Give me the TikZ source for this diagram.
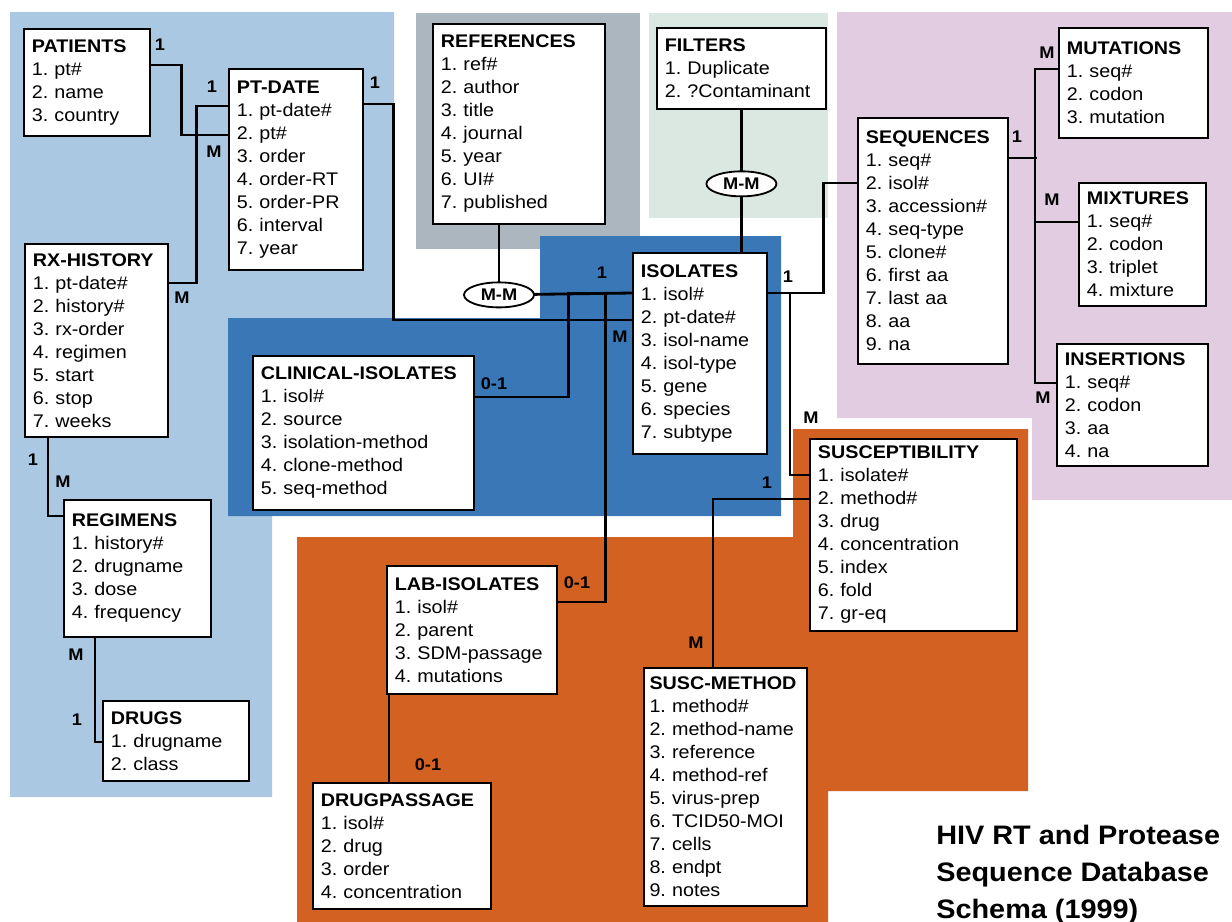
\documentclass[tikz,border=0pt]{standalone}
\usepackage{fontspec}
\setmainfont{Liberation Sans}[FakeStretch=1.08]
\usetikzlibrary{shapes.geometric,calc}
\definecolor{patblue}{RGB}{170,200,225}
\definecolor{isoblue}{RGB}{58,119,182}
\definecolor{refgrey}{RGB}{172,182,190}
\definecolor{filtgreen}{RGB}{219,232,226}
\definecolor{seqpink}{RGB}{226,204,225}
\definecolor{suscorange}{RGB}{211,97,34}
\frenchspacing
\hyphenpenalty=10000
\exhyphenpenalty=10000
\tikzset{
	entity/.style={draw, line width=1.3pt, fill=white, anchor=north west, align=left, inner xsep=0.2cm, inner ysep=0pt, font=\fontsize{13}{16.35}\selectfont},
	link/.style={line width=2pt},
	card/.style={inner sep=0pt, font=\bfseries\fontsize{12}{14}\selectfont},
	mm/.style={draw, ellipse, line width=1.3pt, fill=white, minimum width=1.75cm, minimum height=0.625cm, inner sep=0pt, font=\bfseries\fontsize{12}{14}\selectfont}
}
\begin{document}
\begin{tikzpicture}[x=0.025cm,y=-0.025cm,line join=miter]
	\useasboundingbox (0,0) rectangle (1232,922);
	% coloured areas
	\fill[patblue] (10,12) -- (394,12) -- (394,318) -- (272,318) -- (272,797) -- (10,797) -- cycle;
	\fill[refgrey] (416,13) rectangle (640,249);
	\fill[filtgreen] (649,13) rectangle (828,218);
	\fill[seqpink] (837,12) -- (1232,12) -- (1232,500) -- (1032,500) -- (1032,418) -- (837,418) -- cycle;
	\fill[isoblue] (540,236) -- (781,236) -- (781,516) -- (228,516) -- (228,318) -- (540,318) -- cycle;
	\fill[suscorange] (297,537) -- (793,537) -- (793,429) -- (1028,429) -- (1028,791) -- (828,791) -- (828,922) -- (297,922) -- cycle;
	% tables
	\node[entity, text width=2.75cm, minimum height=2.675cm] (patients) at (23,28) {\textbf{PATIENTS}\\1. pt\#\\2. name\\3. country};
	\node[entity, text width=2.95cm, minimum height=5.025cm] (ptdate) at (228,68) {\textbf{PT-DATE}\\1. pt-date\#\\2. pt\#\\3. order\\4. order-RT\\5. order-PR\\6. interval\\7. year};
	\node[entity, text width=3.9cm, minimum height=5cm] (references) at (432,23) {\textbf{REFERENCES}\\1. ref\#\\2. author\\3. title\\4. journal\\5. year\\6. UI\#\\7. published};
	\node[entity, text width=3.825cm, minimum height=2.025cm] (filters) at (656,27) {\textbf{FILTERS}\\1. Duplicate\\2. ?Contaminant};
	\node[entity, text width=3.35cm, minimum height=6.15cm] (sequences) at (857,117) {\textbf{SEQUENCES}\\1. seq\#\\2. isol\#\\3. accession\#\\4. seq-type\\5. clone\#\\6. first aa\\7. last aa\\8. aa\\9. na};
	\node[entity, text width=3.325cm, minimum height=2.75cm] (mutations) at (1058,27) {\textbf{MUTATIONS}\\1. seq\#\\2. codon\\3. mutation};
	\node[entity, text width=2.775cm, minimum height=3.075cm] (mixtures) at (1078,182) {\textbf{MIXTURES}\\1. seq\#\\2. codon\\3. triplet\\4. mixture};
	\node[entity, text width=3.375cm, minimum height=3.05cm] (insertions) at (1056,343) {\textbf{INSERTIONS}\\1. seq\#\\2. codon\\3. aa\\4. na};
	\node[entity, text width=3.175cm, minimum height=4.825cm] (rxhistory) at (24,243) {\textbf{RX-HISTORY}\\1. pt-date\#\\2. history\#\\3. rx-order\\4. regimen\\5. start\\6. stop\\7. weeks};
	\node[entity, text width=2.95cm, minimum height=5.025cm] (isolates) at (632,252) {\textbf{ISOLATES}\\1. isol\#\\2. pt-date\#\\3. isol-name\\4. isol-type\\5. gene\\6. species\\7. subtype};
	\node[entity, text width=5.125cm, minimum height=3.85cm] (clinical) at (252,355) {\textbf{CLINICAL-ISOLATES}\\1. isol\#\\2. source\\3. isolation-method\\4. clone-method\\5. seq-method};
	\node[entity, text width=4.775cm, minimum height=4.8cm] (suscept) at (809,438) {\textbf{SUSCEPTIBILITY}\\1. isolate\#\\2. method\#\\3. drug\\4. concentration\\5. index\\6. fold\\7. gr-eq};
	\node[entity, text width=3.275cm, minimum height=3.425cm] (regimens) at (63,499) {\textbf{REGIMENS}\\1. history\#\\2. drugname\\3. dose\\4. frequency};
	\node[entity, text width=3.85cm, minimum height=3.2cm] (labiso) at (386,565) {\textbf{LAB-ISOLATES}\\1. isol\#\\2. parent\\3. SDM-passage\\4. mutations};
	\node[entity, inner xsep=0.14cm, text width=3.8cm, minimum height=5.95cm] (suscmethod) at (643,667) {\textbf{SUSC-METHOD}\\1. method\#\\2. method-name\\3. reference\\4. method-ref\\5. virus-prep\\6. TCID50-MOI\\7. cells\\8. endpt\\9. notes};
	\node[entity, text width=3.25cm, minimum height=2cm] (drugs) at (102,700) {\textbf{DRUGS}\\1. drugname\\2. class};
	\node[entity, text width=4.05cm, minimum height=3.15cm] (drugpass) at (312,782) {\textbf{DRUGPASSAGE}\\1. isol\#\\2. drug\\3. order\\4. concentration};
	% links
	\draw[link] ($(patients.north east)+(0,37)$) -- ++(31,0) |- ($(ptdate.north west)+(0,67)$);
	\draw[link] ($(rxhistory.north east)+(0,40)$) -- ++(28,0) |- ($(ptdate.north west)+(0,38)$);
	\draw[link] ($(ptdate.north east)+(0,36)$) -- ++(30,0) |- ($(isolates.north west)+(0,68)$);
	\draw[link] ($(references.south west)+(67,0)$) -- ($(references.south west)+(67,58)$);
	\draw[link] ($(references.south west)+(67,70)$) -- ($(isolates.north west)+(0,41)$);
	\draw[link] (filters.south) -- ($(filters.south)+(0,144)$);
	\draw[link] ($(clinical.north east)+(0,42)$) -- ++(94,0) |- ($(isolates.north west)+(0,41)$);
	\draw[link] ($(labiso.north east)+(0,37)$) -- ++(48,0) |- ($(isolates.north west)+(0,41)$);
	\draw[link] ($(isolates.north east)+(0,41)$) -- ++(56,0) |- ($(sequences.north west)+(0,66)$);
	\draw[link] ($(suscept.north west)+(0,37)$) -- ++(-19,0) |- ($(isolates.north east)+(0,41)$);
	\draw[link] ($(suscmethod.north west)+(70,0)$) |- ($(suscept.north west)+(0,61)$);
	\draw[link] ($(labiso.south west)+(3,0)$) -- ($(drugpass.north west)+(77,0)$);
	\draw[link] ($(rxhistory.south west)+(24,0)$) |- ($(regimens.north west)+(0,17)$);
	\draw[link] ($(regimens.south west)+(32,0)$) |- ($(drugs.north west)+(0,42)$);
	\draw[link] ($(sequences.north east)+(0,41)$) -- ++(28,0);
	\draw[link] ($(mutations.north west)+(0,42)$) -- ++(-23,0) |- ($(insertions.north west)+(0,40)$);
	\draw[link] ($(mixtures.north west)+(0,40)$) -- ++(-43,0);
	\node[mm] (refmm) at ($(references.south west)+(67,70)$) {M-M};
	\node[mm] (filmm) at ($(filters.south)+(0,74)$) {M-M};
	% cardinalities
	\foreach \x/\y/\t [count=\i] in {160/45/1, 214/152/M, 212/87/1, 182/298/M, 375/83/1, 620/337/M, 602/273/1, 494/384/0-1, 577/583/0-1, 788/277/1, 811/418/M, 767/483/1, 696/643/M, 428/765/0-1, 33/460/1, 63/482/M, 76/655/M, 77/720/1, 1017/137/1, 1047/53/M, 1052/200/M, 1043/398/M}
	\node[card] (card\i) at (\x,\y) {\t};
	\node[anchor=north west, align=left, inner sep=0pt, font=\bfseries\fontsize{19}{26.2}\selectfont] (title) at (936,825) {HIV RT and Protease\\Sequence Database\\Schema (1999)};
\end{tikzpicture}
\end{document}
